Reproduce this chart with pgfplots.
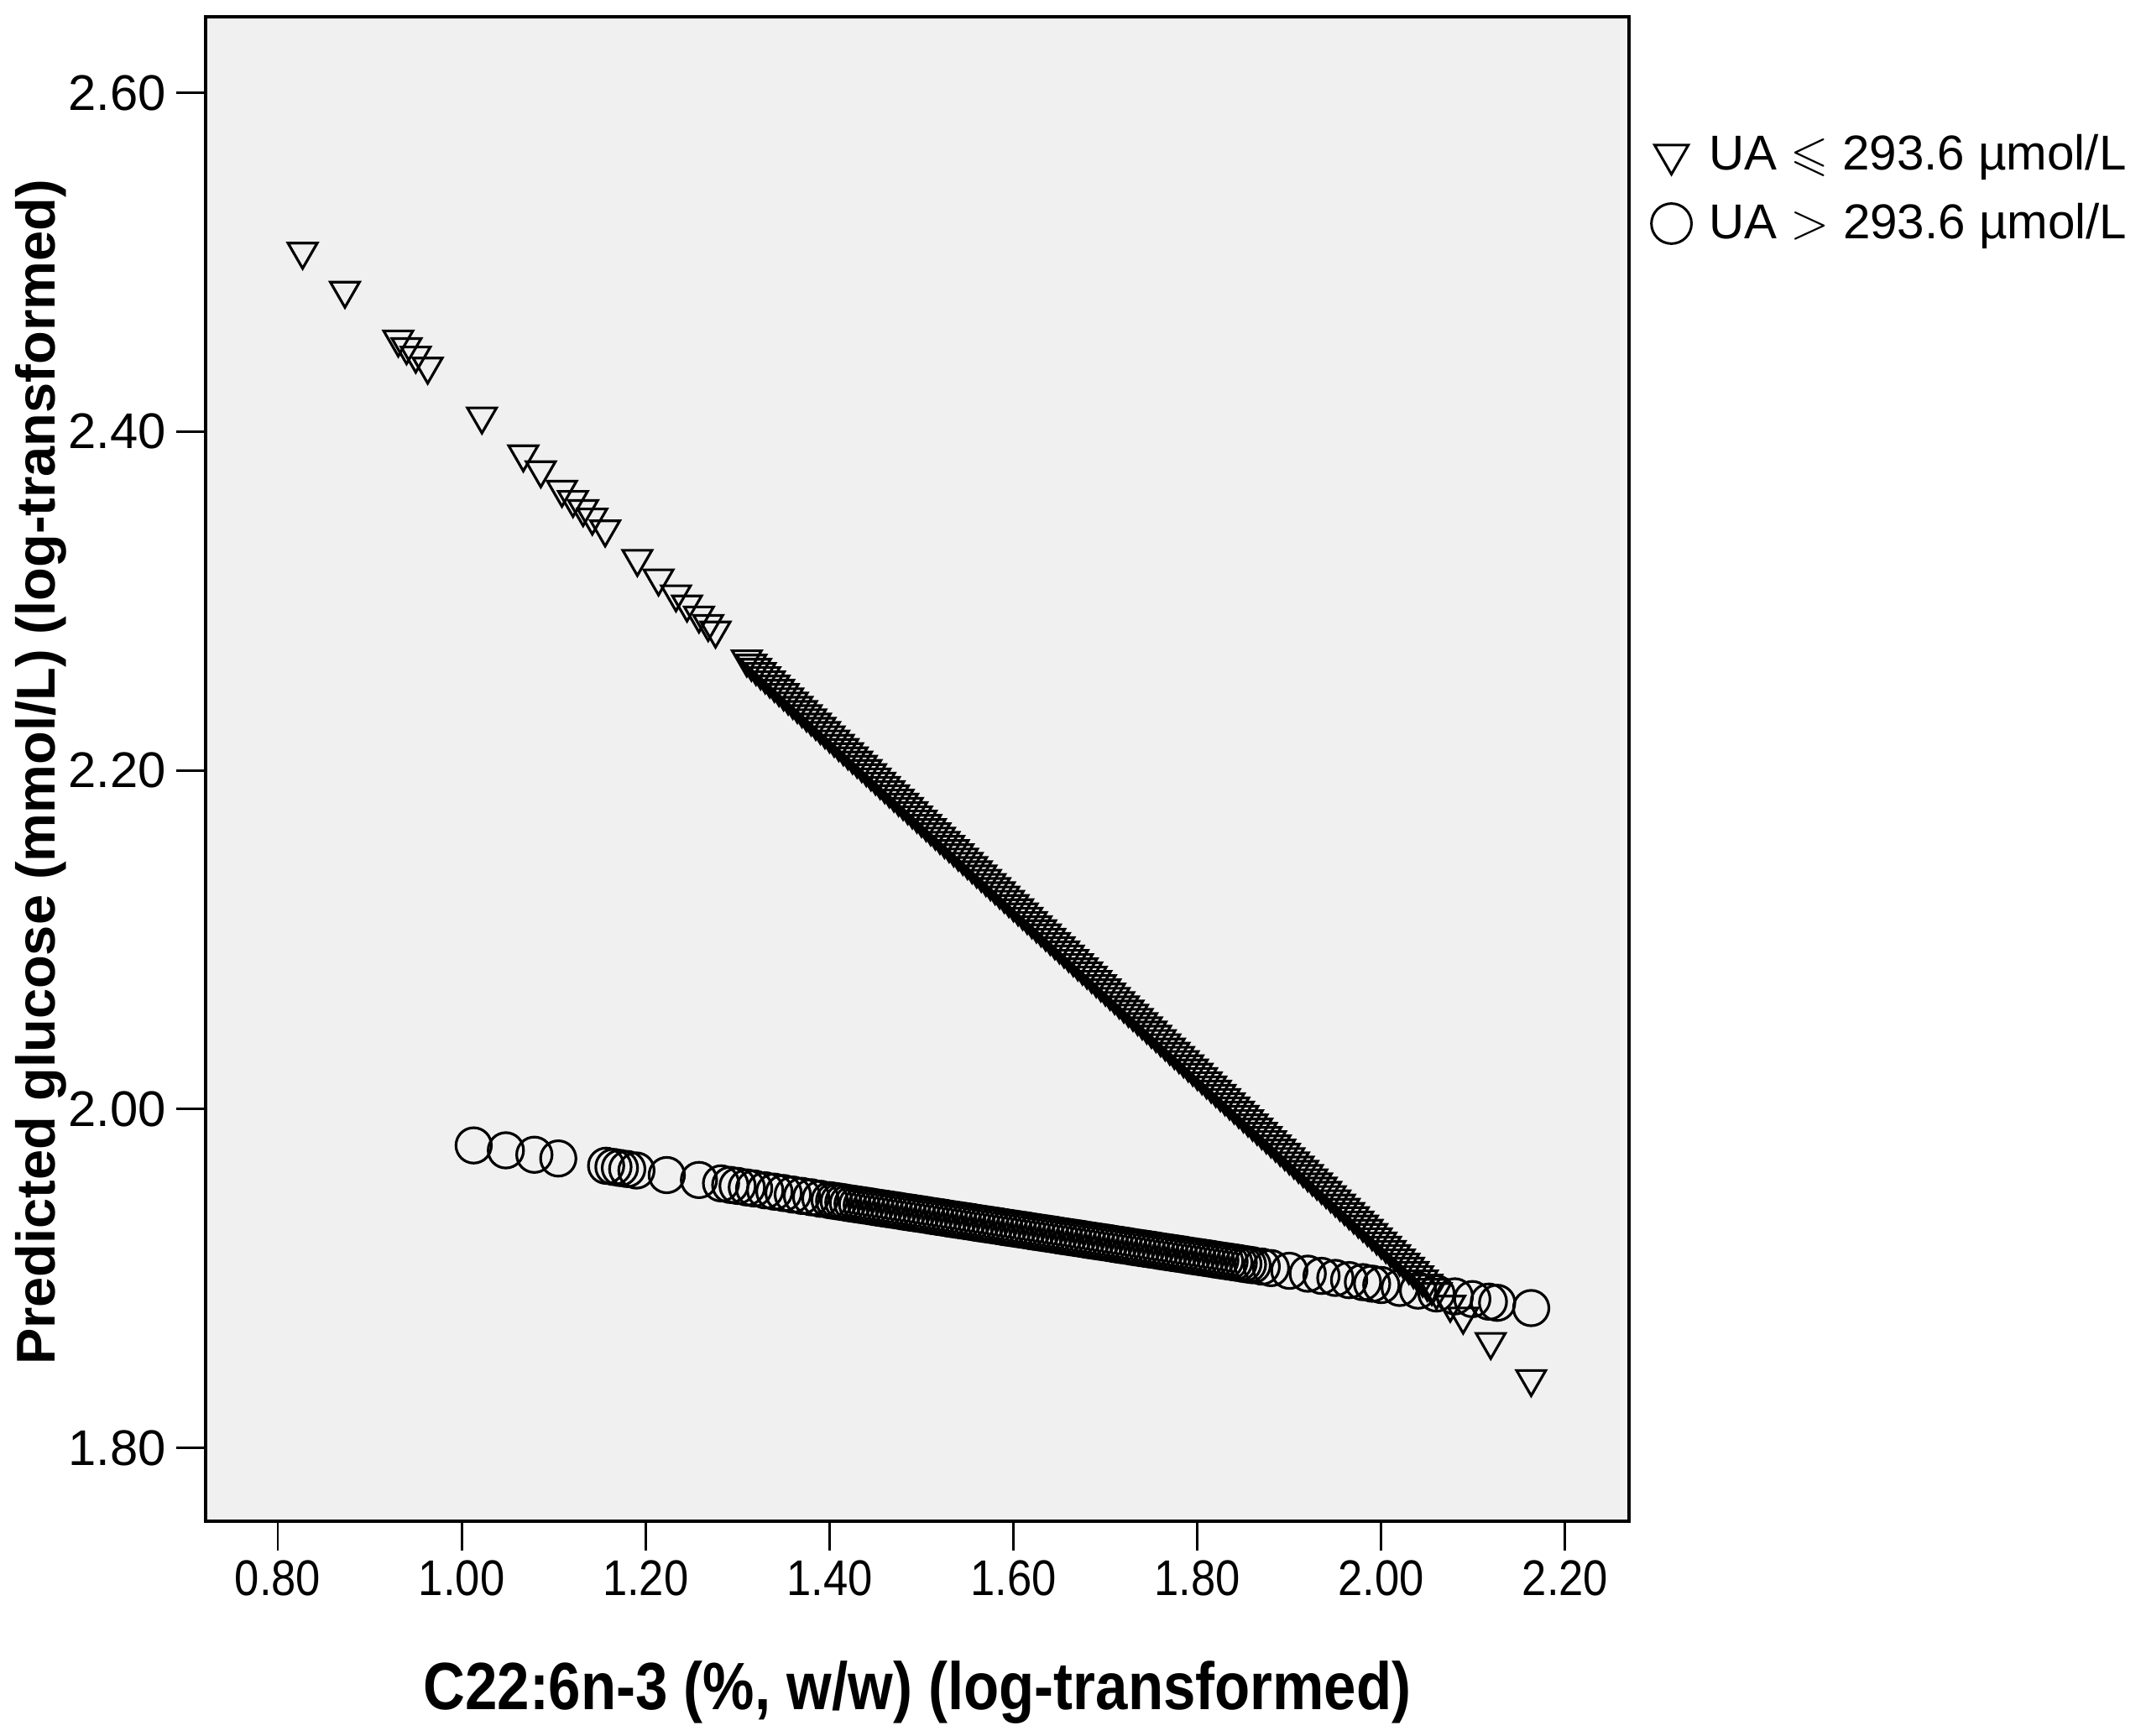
\documentclass[border=0pt]{standalone}
\usepackage{amssymb}
\usepackage{fontspec}
\setmainfont{Liberation Sans}
\usepackage{pgfplots}
\usepackage{pgfplotstable}
\pgfplotsset{compat=1.18}
\definecolor{spssbg}{HTML}{F0F0F0}

% predicted values, UA <= 293.6
\pgfplotstableread{
x y
0.827 2.5062
0.873 2.4832
0.931 2.4544
0.940 2.4499
0.950 2.4449
0.963 2.4384
1.022 2.4090
1.067 2.3866
1.086 2.3772
1.109 2.3657
1.121 2.3597
1.132 2.3543
1.142 2.3493
1.156 2.3423
1.191 2.3249
1.214 2.3134
1.233 2.3040
1.245 2.2980
1.258 2.2915
1.268 2.2865
1.276 2.2826
1.31 2.2656
1.32 2.2606
1.33 2.2557
1.34 2.2507
1.35 2.2457
1.36 2.2407
1.37 2.2357
1.38 2.2308
1.39 2.2258
1.40 2.2208
1.41 2.2158
1.42 2.2108
1.43 2.2059
1.44 2.2009
1.45 2.1959
1.46 2.1909
1.47 2.1859
1.48 2.1810
1.49 2.1760
1.50 2.1710
1.51 2.1660
1.52 2.1610
1.53 2.1561
1.54 2.1511
1.55 2.1461
1.56 2.1411
1.57 2.1361
1.58 2.1312
1.59 2.1262
1.60 2.1212
1.61 2.1162
1.62 2.1112
1.63 2.1063
1.64 2.1013
1.65 2.0963
1.66 2.0913
1.67 2.0863
1.68 2.0814
1.69 2.0764
1.70 2.0714
1.71 2.0664
1.72 2.0614
1.73 2.0565
1.74 2.0515
1.75 2.0465
1.76 2.0415
1.77 2.0365
1.78 2.0316
1.79 2.0266
1.80 2.0216
1.81 2.0166
1.82 2.0116
1.83 2.0067
1.84 2.0017
1.85 1.9967
1.86 1.9917
1.87 1.9867
1.88 1.9818
1.89 1.9768
1.90 1.9718
1.91 1.9668
1.92 1.9618
1.93 1.9569
1.94 1.9519
1.95 1.9469
1.96 1.9419
1.97 1.9369
1.98 1.9320
1.99 1.9270
2.00 1.9220
2.01 1.9170
2.02 1.9120
2.03 1.9071
2.04 1.9021
2.05 1.8971
2.06 1.8921
2.075 1.8847
2.089 1.8777
2.119 1.8627
2.163 1.8408
1.315 2.2631
1.325 2.2581
1.335 2.2532
1.345 2.2482
1.355 2.2432
1.365 2.2382
1.375 2.2332
1.385 2.2283
1.395 2.2233
1.405 2.2183
1.415 2.2133
1.425 2.2083
1.435 2.2034
1.445 2.1984
1.455 2.1934
1.465 2.1884
1.475 2.1834
1.485 2.1785
1.495 2.1735
1.505 2.1685
1.515 2.1635
1.525 2.1585
1.535 2.1536
1.545 2.1486
1.555 2.1436
1.565 2.1386
1.575 2.1336
1.585 2.1287
1.595 2.1237
1.605 2.1187
1.615 2.1137
1.625 2.1087
1.635 2.1038
1.645 2.0988
1.655 2.0938
1.665 2.0888
1.675 2.0838
1.685 2.0789
1.695 2.0739
1.705 2.0689
1.715 2.0639
1.725 2.0589
1.735 2.0540
1.745 2.0490
1.755 2.0440
1.765 2.0390
1.775 2.0340
1.785 2.0291
1.795 2.0241
1.805 2.0191
1.815 2.0141
1.825 2.0091
1.835 2.0042
1.845 1.9992
1.855 1.9942
1.865 1.9892
1.875 1.9842
1.885 1.9793
1.895 1.9743
1.905 1.9693
1.915 1.9643
1.925 1.9593
1.935 1.9544
1.945 1.9494
1.955 1.9444
1.965 1.9394
1.975 1.9344
1.985 1.9295
1.995 1.9245
2.005 1.9195
2.015 1.9145
2.025 1.9095
2.035 1.9046
2.045 1.8996
2.055 1.8946
}\ualow

% predicted values, UA > 293.6
\pgfplotstableread{
x y
1.013 1.9786
1.048 1.9757
1.079 1.9731
1.105 1.9709
1.157 1.9666
1.165 1.9659
1.172 1.9653
1.180 1.9647
1.190 1.9638
1.223 1.9611
1.258 1.9582
1.282 1.9562
1.292 1.9553
1.300 1.9547
1.310 1.9538
1.318 1.9532
1.33 1.9521
1.34 1.9513
1.35 1.9505
1.36 1.9496
1.37 1.9488
1.38 1.9480
1.39 1.9471
1.40 1.9463
1.41 1.9455
1.42 1.9446
1.43 1.9438
1.44 1.9430
1.45 1.9421
1.46 1.9413
1.47 1.9405
1.48 1.9396
1.49 1.9388
1.50 1.9380
1.51 1.9371
1.52 1.9363
1.53 1.9354
1.54 1.9346
1.55 1.9338
1.56 1.9329
1.57 1.9321
1.58 1.9313
1.59 1.9304
1.60 1.9296
1.61 1.9288
1.62 1.9279
1.63 1.9271
1.64 1.9263
1.65 1.9254
1.66 1.9246
1.67 1.9238
1.68 1.9229
1.69 1.9221
1.70 1.9213
1.71 1.9204
1.72 1.9196
1.73 1.9187
1.74 1.9179
1.75 1.9171
1.76 1.9162
1.77 1.9154
1.78 1.9146
1.79 1.9137
1.80 1.9129
1.81 1.9121
1.82 1.9112
1.83 1.9104
1.84 1.9096
1.85 1.9087
1.86 1.9079
1.87 1.9071
1.88 1.9062
1.90 1.9046
1.92 1.9029
1.935 1.9016
1.95 1.9004
1.965 1.8991
1.98 1.8979
1.99 1.8970
2.00 1.8962
2.02 1.8945
2.04 1.8929
2.06 1.8912
2.08 1.8895
2.099 1.8879
2.117 1.8864
2.126 1.8857
2.163 1.8826
1.405 1.9459
1.415 1.9451
1.425 1.9442
1.435 1.9434
1.445 1.9426
1.455 1.9417
1.465 1.9409
1.475 1.9401
1.485 1.9392
1.495 1.9384
1.505 1.9376
1.515 1.9367
1.525 1.9359
1.535 1.9350
1.545 1.9342
1.555 1.9334
1.565 1.9325
1.575 1.9317
1.585 1.9309
1.595 1.9300
1.605 1.9292
1.615 1.9284
1.625 1.9275
1.635 1.9267
1.645 1.9259
1.655 1.9250
1.665 1.9242
1.675 1.9234
1.685 1.9225
1.695 1.9217
1.705 1.9209
1.715 1.9200
1.725 1.9192
1.735 1.9183
1.745 1.9175
1.755 1.9167
1.765 1.9158
1.775 1.9150
1.785 1.9142
1.795 1.9133
1.805 1.9125
1.815 1.9117
1.825 1.9108
1.835 1.9100
1.845 1.9092
1.855 1.9083
}\uahigh

\begin{document}
\begin{tikzpicture}
\path[use as bounding box] (-2.45,-2.56) rectangle (23.12,18.126);
\begin{axis}[
  at={(0,0)}, anchor=south west,
  scale only axis,
  width=16.96cm, height=17.93cm,
  xmin=0.7215, xmax=2.2694,
  ymin=1.757, ymax=2.645,
  xtick={0.8,1,1.2,1.4,1.6,1.8,2,2.2},
  ytick={1.8,2,2.2,2.4,2.6},
  xtick pos=bottom, ytick pos=left,
  tick align=outside,
  major tick length=0.35cm,
  tick style={line width=0.85pt, black},
  axis line style={line width=1.1pt},
  axis background/.style={fill=spssbg},
  scaled ticks=false,
  /pgf/number format/.cd, fixed, fixed zerofill, precision=2, assume math mode=true,
  /pgfplots/.cd,
  tick label style={font=\fontsize{17}{20}\selectfont},
  xticklabel={\scalebox{0.88}[1]{\pgfmathprintnumber{\tick}}},
  yticklabel={\pgfmathprintnumber{\tick}},
  xlabel={\scalebox{0.865}[1]{C22:6n-3 (\%, w/w) (log-transformed)}},
  ylabel={Predicted glucose (mmol/L) (log-transformed)},
  xlabel style={at={(axis description cs:0.5,-0.114)}, anchor=center,
    font=\fontsize{22.7}{27}\selectfont\bfseries},
  ylabel style={at={(axis description cs:-0.1156,0.4975)}, anchor=center,
    font=\fontsize{18.5}{22}\selectfont\bfseries},
  legend style={at={(axis description cs:1.0153,0.9256)}, anchor=north west,
    draw=none, fill=none, inner sep=0pt, row sep=5.8pt,
    font=\fontsize{16.6}{19.5}\selectfont},
  legend cell align=left,
  legend image code/.code={\draw[#1] plot coordinates {(0.25cm,0cm)};
    \path (0.62cm,0cm);},
]
\addplot[only marks, mark=triangle, mark size=5.7pt,
  mark options={rotate=180, line width=0.9pt, draw=black, fill=none},
  forget plot] table {\ualow};
\addplot[only marks, mark=o, mark size=6pt,
  mark options={line width=0.9pt, draw=black, fill=none},
  forget plot] table {\uahigh};
\addlegendimage{only marks, mark=triangle, mark size=6.6pt,
  mark options={rotate=180, line width=0.85pt, draw=black, fill=none}}
\addlegendentry{UA $\leqslant$ 293.6 µmol/L}
\addlegendimage{only marks, mark=o, mark size=6.8pt,
  mark options={line width=0.85pt, draw=black, fill=none}}
\addlegendentry{UA $>$ 293.6 µmol/L}
\end{axis}
\end{tikzpicture}
\end{document}
